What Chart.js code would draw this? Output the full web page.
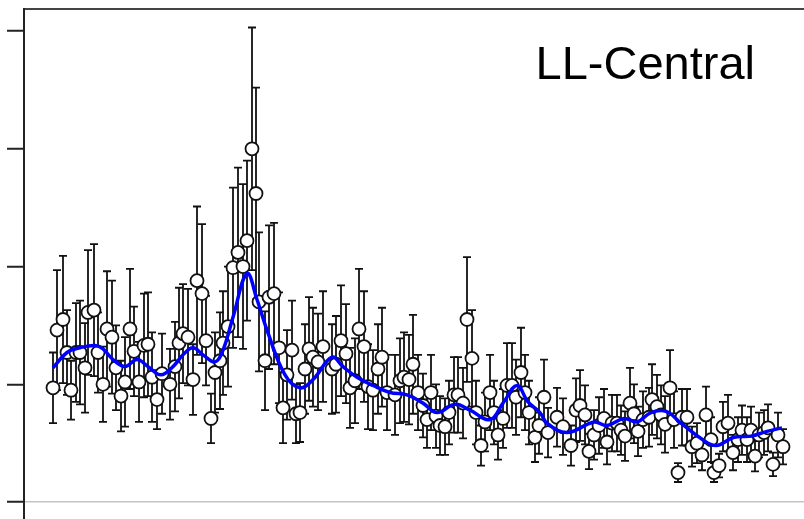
<!DOCTYPE html>
<html>
<head>
<meta charset="utf-8">
<script src="https://cdn.jsdelivr.net/npm/chart.js@4/dist/chart.umd.min.js"></script>
<style>
  html, body { margin: 0; padding: 0; background: #fff; }
  #wrap { width: 804px; height: 519px; }
</style>
</head>
<body>
<div id="wrap"><canvas id="c" width="804" height="519"></canvas></div>
<script>
// measured points (x position, value, error half-length)
var xVals = [5.8, 6.6, 7.8, 8.6, 9.4, 10.4, 11.2, 12.2, 12.8, 14, 14.8, 15.8, 16.6, 17.6, 18.4, 19.4, 20.2, 21.2, 22, 23,
  24, 24.8, 25.6, 26.6, 27.6, 29.2, 30.2, 31, 31.8, 32.8, 33.8, 34.6, 35.6, 36.4, 37.4, 38.2, 39.2, 39.8, 40.8, 41.8,
  42.8, 43.8, 44.6, 45.6, 46.4, 47, 48.2, 49, 50, 51, 51.8, 52.6, 53.6, 54.4, 55.2, 56.2, 57, 57.8, 58.8, 59.8,
  61.6, 62.4, 63.4, 64.4, 65.2, 66.2, 67, 68, 68.8, 69.8, 70.8, 71.6, 72.6, 74.2, 75.2, 76, 77, 77.8, 78.8, 79.8,
  80.6, 81.4, 82.4, 83.2, 84.2, 85, 86, 86.8, 87.8, 88.6, 89.6, 90.4, 91.4, 92.2, 93.2, 94, 94.8, 95.8, 96.6, 97.6,
  98.4, 99.4, 100.2, 101, 102.2, 103, 104, 104.8, 106.6, 107.8, 109.4, 110.4, 111.2, 112.2, 113, 114, 115, 116, 116.6, 117.6,
  118.6, 119.4, 120.2, 121.2, 122, 122.8, 123.8, 125, 125.6, 126.6, 127.4, 128.2, 129.2, 130, 130.8, 131.6, 132.6, 133.6, 134.6, 135.6,
  136.4, 137.4, 138, 139, 139.8, 140.8, 141.8, 142.8, 143.6, 144.6, 145.4, 146.2, 147, 148, 148.8, 149.8, 150.8, 151.8];
var yVals = [0.97, 1.46, 1.55, 1.27, 0.95, 1.27, 1.27, 1.14, 1.61, 1.63, 1.27, 1.00, 1.47, 1.40, 1.14, 0.90, 1.02, 1.47, 1.28, 1.02,
  1.33, 1.34, 1.06, 0.87, 1.09, 1.00, 1.15, 1.35, 1.43, 1.40, 1.04, 1.88, 1.77, 1.37, 0.71, 1.10, 1.20, 1.35, 1.49, 1.99,
  2.12, 2.00, 2.22, 3.00, 2.62, 1.70, 1.20, 1.74, 1.77, 1.31, 0.80, 1.08, 1.29, 0.75, 0.76, 1.13, 1.30, 1.23, 1.19, 1.32,
  1.13, 1.17, 1.37, 1.26, 0.97, 1.03, 1.47, 1.32, 0.98, 0.95, 1.13, 1.23, 0.93, 0.91, 1.03, 1.06, 1.04, 1.17, 0.93, 0.82,
  0.70, 0.93, 0.73, 0.65, 0.64, 0.76, 0.91, 0.91, 0.84, 1.55, 1.22, 0.76, 0.48, 0.68, 0.93, 0.76, 0.57, 0.71, 0.99, 0.99,
  0.89, 1.10, 0.93, 0.76, 0.55, 0.65, 0.89, 0.59, 0.72, 0.64, 0.48, 0.78, 0.82, 0.74, 0.43, 0.57, 0.65, 0.71, 0.51, 0.67,
  0.67, 0.61, 0.56, 0.84, 0.75, 0.60, 0.70, 0.72, 0.87, 0.81, 0.74, 0.66, 0.97, 0.70, 0.25, 0.72, 0.72, 0.47, 0.50, 0.40,
  0.74, 0.53, 0.25, 0.31, 0.64, 0.67, 0.42, 0.53, 0.61, 0.53, 0.61, 0.39, 0.57, 0.59, 0.63, 0.32, 0.57, 0.47];
var errVals = [0.30, 0.51, 0.54, 0.36, 0.25, 0.42, 0.44, 0.38, 0.53, 0.56, 0.34, 0.32, 0.49, 0.48, 0.36, 0.30, 0.38, 0.51, 0.38, 0.34,
  0.44, 0.44, 0.38, 0.25, 0.34, 0.30, 0.38, 0.47, 0.42, 0.41, 0.30, 0.63, 0.59, 0.38, 0.21, 0.34, 0.41, 0.44, 0.51, 0.68,
  0.72, 0.70, 0.68, 1.03, 0.90, 0.59, 0.42, 0.61, 0.60, 0.47, 0.30, 0.38, 0.42, 0.25, 0.25, 0.38, 0.44, 0.42, 0.41, 0.47,
  0.38, 0.41, 0.47, 0.42, 0.34, 0.36, 0.51, 0.47, 0.36, 0.34, 0.38, 0.42, 0.32, 0.34, 0.36, 0.38, 0.38, 0.42, 0.32, 0.27,
  0.24, 0.32, 0.27, 0.25, 0.24, 0.27, 0.32, 0.32, 0.30, 0.53, 0.41, 0.27, 0.17, 0.25, 0.32, 0.27, 0.21, 0.25, 0.36, 0.36,
  0.32, 0.38, 0.32, 0.27, 0.21, 0.24, 0.32, 0.21, 0.25, 0.24, 0.17, 0.27, 0.30, 0.25, 0.15, 0.21, 0.24, 0.25, 0.19, 0.24,
  0.24, 0.21, 0.21, 0.30, 0.25, 0.21, 0.24, 0.25, 0.30, 0.27, 0.25, 0.24, 0.32, 0.24, 0.08, 0.24, 0.24, 0.17, 0.17, 0.13,
  0.24, 0.19, 0.08, 0.10, 0.21, 0.24, 0.15, 0.19, 0.21, 0.19, 0.20, 0.13, 0.19, 0.19, 0.20, 0.10, 0.19, 0.15];

// smoothed fit curve
var fitX = [5.8, 8.6, 11.2, 14.2, 15.8, 17.8, 20.2, 22.6, 24.8, 27.4, 29.8, 31.8, 33.8, 35.8, 38.2, 39.8, 41.8, 44.6, 46.6, 48.6,
  52.2, 55.2, 57.8, 61.6, 63.8, 66.6, 69.8, 73.2, 76.6, 79.8, 82.6, 86.2, 89.2, 93.2, 95.8, 98.6, 100.8, 103.2, 104.6, 108.6,
  114, 116.6, 120, 122.6, 125.4, 128.4, 131.4, 135.4, 138.4, 142, 145.4, 148.6, 151.6];
var fitY = [1.14, 1.27, 1.31, 1.33, 1.30, 1.21, 1.15, 1.21, 1.15, 1.08, 1.15, 1.25, 1.31, 1.25, 1.19, 1.29, 1.57, 1.94, 1.72, 1.46,
  1.08, 0.97, 1.04, 1.23, 1.15, 1.06, 0.99, 0.93, 0.91, 0.84, 0.76, 0.83, 0.78, 0.70, 0.84, 0.99, 0.85, 0.76, 0.67, 0.59,
  0.68, 0.65, 0.71, 0.68, 0.76, 0.77, 0.67, 0.54, 0.48, 0.55, 0.56, 0.60, 0.63];

var tickValues = [0, 1, 2, 3, 4];
var panelLabel = "LL-Central";

var points = xVals.map(function (x, i) { return { x: x, y: yVals[i] }; });
var fit = fitX.map(function (x, i) { return { x: x, y: fitY[i] }; });

var errorBars = {
  id: "errorBars",
  beforeDatasetsDraw: function (chart) {
    var ctx = chart.ctx;
    var xs = chart.scales.x;
    var ys = chart.scales.y;
    var area = chart.chartArea;
    ctx.save();
    ctx.beginPath();
    ctx.rect(area.left, area.top, area.right - area.left, area.bottom - area.top);
    ctx.clip();
    ctx.strokeStyle = "#111";
    ctx.lineWidth = 1.8;
    for (var i = 0; i < xVals.length; i++) {
      var px = xs.getPixelForValue(xVals[i]);
      var top = ys.getPixelForValue(yVals[i] + errVals[i]);
      var bot = ys.getPixelForValue(yVals[i] - errVals[i]);
      ctx.beginPath();
      ctx.moveTo(px, top);
      ctx.lineTo(px, bot);
      ctx.moveTo(px - 4, top);
      ctx.lineTo(px + 4, top);
      ctx.moveTo(px - 4, bot);
      ctx.lineTo(px + 4, bot);
      ctx.stroke();
    }
    ctx.restore();
  }
};

var cornerLabel = {
  id: "cornerLabel",
  afterDraw: function (chart) {
    var ctx = chart.ctx;
    var area = chart.chartArea;
    ctx.save();
    ctx.fillStyle = "#000";
    ctx.font = '47px "Liberation Sans", Arial, sans-serif';
    ctx.textAlign = "right";
    ctx.textBaseline = "alphabetic";
    ctx.fillText(panelLabel, area.right - 49, area.top + 70);
    ctx.restore();
  }
};

new Chart(document.getElementById("c"), {
  type: "scatter",
  data: {
    datasets: [
      {
        data: fit,
        showLine: true,
        borderColor: "#0000ff",
        borderWidth: 3.5,
        tension: 0.4,
        pointRadius: 0,
        fill: false
      },
      {
        data: points,
        pointRadius: 6.5,
        pointBorderWidth: 1.8,
        backgroundColor: "#ffffff",
        borderColor: "#111111",
        showLine: false
      }
    ]
  },
  options: {
    responsive: false,
    animation: false,
    events: [],
    layout: { autoPadding: false, padding: { left: 7, top: 9, right: 0, bottom: 0 } },
    plugins: { legend: { display: false }, tooltip: { enabled: false } },
    scales: {
      x: {
        type: "linear",
        position: "top",
        min: 0,
        max: 156,
        ticks: { display: false },
        grid: { drawOnChartArea: false, drawTicks: false },
        border: { display: true, color: "#444", width: 2 }
      },
      y: {
        type: "linear",
        min: -0.144,
        max: 4.187,
        afterBuildTicks: function (scale) {
          scale.ticks = tickValues.map(function (v) { return { value: v }; });
        },
        ticks: { display: false },
        grid: {
          drawOnChartArea: true,
          drawTicks: true,
          tickLength: 17,
          lineWidth: 1.5,
          tickWidth: 2,
          tickColor: "#222",
          color: function (c) { return c.tick && c.tick.value === 0 ? "#c4c4c4" : "rgba(0,0,0,0)"; }
        },
        border: { display: true, color: "#222", width: 2 }
      }
    }
  },
  plugins: [errorBars, cornerLabel]
});
</script>
</body>
</html>
